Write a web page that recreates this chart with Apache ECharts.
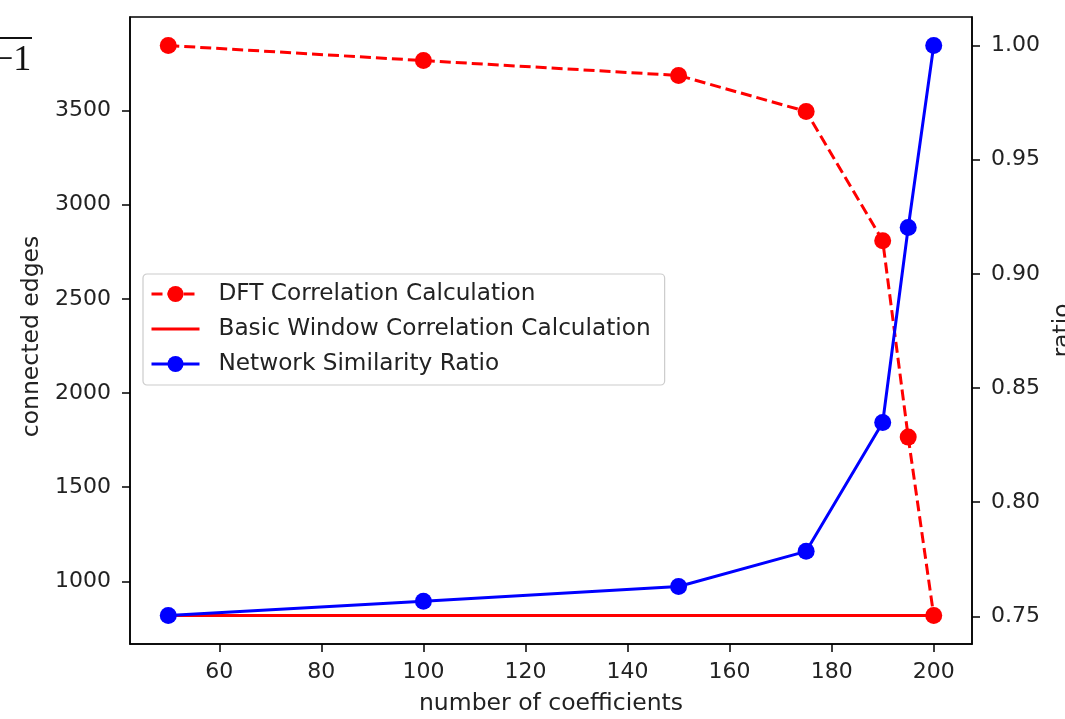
<!DOCTYPE html>
<html>
<head>
<meta charset="utf-8">
<script src="https://cdn.jsdelivr.net/npm/echarts@6/dist/echarts.min.js"></script>
<style>
html,body{margin:0;padding:0;background:#fff;}
#chart{width:1065px;height:719px;}
</style>
</head>
<body>
<div id="chart"></div>
<script>
// ---- data ----
const coefficients = [50, 100, 150, 175, 190, 195, 200];
const dftEdges = [3845, 3765, 3686, 3495, 2809, 1766, 819];
const basicWindowEdges = [819, 819, 819, 819, 819, 819, 819];
const similarityRatio = [0.7504, 0.7566, 0.7631, 0.7785, 0.8349, 0.9203, 1.0];
const xTicks = [60, 80, 100, 120, 140, 160, 180, 200];
const leftTicks = [1000, 1500, 2000, 2500, 3000, 3500];
const rightTicks = [0.75, 0.80, 0.85, 0.90, 0.95, 1.00];
const seriesNames = ['DFT Correlation Calculation', 'Basic Window Correlation Calculation', 'Network Similarity Ratio'];

function padRange(arr) {
  const mn = Math.min.apply(null, arr), mx = Math.max.apply(null, arr);
  const m = (mx - mn) * 0.05;
  return [mn - m, mx + m];
}
const xr = padRange(coefficients);
const lr = padRange(dftEdges.concat(basicWindowEdges));
const rr = padRange(similarityRatio);

const FONT = 'DejaVu Sans';
const chart = echarts.init(document.getElementById('chart'), null, {renderer: 'canvas'});

const axisLine = {show: true, onZero: false, lineStyle: {color: '#000', width: 1.5}};
const axisTick = {show: true, length: 8, inside: false, lineStyle: {color: '#000', width: 1.5}};
// thin horizontal band inside a 48x20 box, used as the legend icon of the plain line
const lineIcon = 'path://M0,0L48,0L48,0.01Z M0,8.5L48,8.5L48,11.5L0,11.5Z M0,20L48,20L48,19.99Z';

chart.setOption({
  animation: false,
  backgroundColor: '#fff',
  grid: {left: 130, right: 93, top: 17, bottom: 75, outerBoundsMode: 'none', containLabel: false,
    show: true, borderColor: '#000', borderWidth: 1.5, backgroundColor: 'transparent'},
  legend: {
    orient: 'vertical',
    left: 143, top: 274,
    padding: [8, 14, 9, 7],
    itemWidth: 48, itemHeight: 20, itemGap: 11,
    backgroundColor: 'rgba(255,255,255,0.85)',
    borderColor: '#cccccc', borderWidth: 1.2, borderRadius: 4,
    lineStyle: {width: 3},
    textStyle: {fontFamily: FONT, fontSize: 23.2, color: '#222', padding: [0, 0, 0, 14], lineHeight: 24},
    data: [
      {name: seriesNames[0]},
      {name: seriesNames[1], icon: lineIcon, itemStyle: {color: '#ff0000'}},
      {name: seriesNames[2]}
    ]
  },
  xAxis: {
    type: 'value', min: xr[0], max: xr[1],
    name: 'number of coefficients', nameLocation: 'middle', nameGap: 48,
    nameTextStyle: {fontFamily: FONT, fontSize: 23.5, color: '#222'},
    axisLine: axisLine,
    axisTick: Object.assign({}, axisTick, {customValues: xTicks}),
    axisLabel: {customValues: xTicks, fontFamily: FONT, fontSize: 22, color: '#222', margin: 17,
      formatter: v => String(v)},
    splitLine: {show: false}
  },
  yAxis: [{
    type: 'value', min: lr[0], max: lr[1], position: 'left',
    name: 'connected edges', nameLocation: 'middle', nameGap: 82, nameRotate: 90,
    nameTextStyle: {fontFamily: FONT, fontSize: 23.5, color: '#222', padding: [0, 12, 0, 0]},
    axisLine: axisLine,
    axisTick: Object.assign({}, axisTick, {customValues: leftTicks}),
    axisLabel: {customValues: leftTicks, fontFamily: FONT, fontSize: 22, color: '#222', margin: 19,
      formatter: v => String(v)},
    splitLine: {show: false}
  }, {
    type: 'value', min: rr[0], max: rr[1], position: 'right',
    name: 'ratio', nameLocation: 'middle', nameGap: 78, nameRotate: 90,
    nameTextStyle: {fontFamily: FONT, fontSize: 23.5, color: '#222'},
    axisLine: axisLine,
    axisTick: Object.assign({}, axisTick, {customValues: rightTicks}),
    axisLabel: {customValues: rightTicks, fontFamily: FONT, fontSize: 22, color: '#222', margin: 19,
      formatter: v => v.toFixed(2)},
    splitLine: {show: false}
  }],
  series: [{
    name: seriesNames[0], type: 'line', yAxisIndex: 0,
    data: coefficients.map((x, i) => [x, dftEdges[i]]),
    symbol: 'circle', symbolSize: 17,
    lineStyle: {color: '#ff0000', width: 3, type: [11, 5]},
    itemStyle: {color: '#ff0000'}
  }, {
    name: seriesNames[1], type: 'line', yAxisIndex: 0,
    data: coefficients.map((x, i) => [x, basicWindowEdges[i]]),
    symbol: 'none',
    lineStyle: {color: '#ff0000', width: 3},
    itemStyle: {color: '#ff0000'}
  }, {
    name: seriesNames[2], type: 'line', yAxisIndex: 1,
    data: coefficients.map((x, i) => [x, similarityRatio[i]]),
    symbol: 'circle', symbolSize: 17,
    lineStyle: {color: '#0000ff', width: 3},
    itemStyle: {color: '#0000ff'}
  }],
  graphic: [{
    type: 'line', shape: {x1: 0, y1: 38, x2: 32, y2: 38}, style: {stroke: '#111', lineWidth: 2}
  }, {
    type: 'text', left: -7, top: 43,
    style: {text: '\u22121', font: '36px "Liberation Serif", "DejaVu Serif", serif', fill: '#111'}
  }]
});
</script>
</body>
</html>
